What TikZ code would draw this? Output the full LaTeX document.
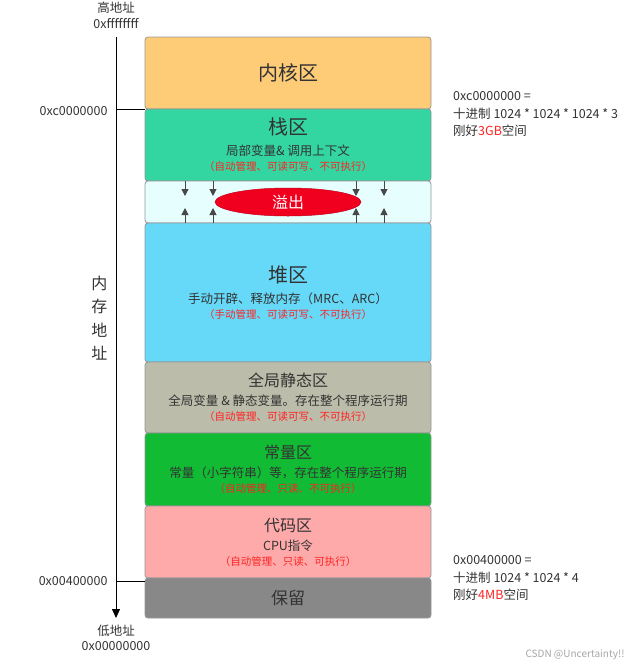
\documentclass[tikz,border=0pt]{standalone}
\usepackage{fontspec}
\setmainfont{Noto Sans CJK SC}
\usepackage{xcolor}
\usepackage{tikz}
\usetikzlibrary{shapes.geometric, arrows.meta, positioning, calc}
\definecolor{mytext}{RGB}{51,51,51}
\definecolor{myred}{RGB}{255,34,34}
\definecolor{myedge}{RGB}{150,150,150}
\definecolor{kernelorange}{RGB}{254,203,119}
\definecolor{stackgreen}{RGB}{51,214,161}
\definecolor{gapcyan}{RGB}{230,254,253}
\definecolor{heapblue}{RGB}{102,217,248}
\definecolor{globalgray}{RGB}{188,188,170}
\definecolor{constgreen}{RGB}{17,187,51}
\definecolor{codepink}{RGB}{255,170,170}
\definecolor{reservedgray}{RGB}{136,136,136}
\definecolor{overflowred}{RGB}{240,0,30}
\newcommand{\zonetitle}{\fontsize{20}{24}\selectfont}
\newcommand{\zonesub}{\fontsize{16}{20}\selectfont}
\newcommand{\zonenote}{\fontsize{10.5}{13}\selectfont\color{myred}}
\tikzset{
  zone/.style={rectangle, draw=myedge, minimum width=286pt,
    align=center, font=\fontsize{12.5}{16}\selectfont, text=mytext,
    rounded corners=3pt, line width=0.8pt, inner sep=0pt, outer sep=0pt},
  addr/.style={font=\fontsize{12.5}{15.5}\selectfont, text=mytext, align=center},
  note/.style={font=\fontsize{12.5}{17.5}\selectfont, text=mytext, align=left,
    anchor=west, inner sep=0pt},
  gaparrow/.style={-{Triangle[length=7pt, width=7pt]}, line width=1pt, color=mytext!90},
  axisarrow/.style={-{Triangle[length=9pt, width=8pt]}, line width=0.9pt, color=black}
}

\begin{document}
\begin{tikzpicture}[x=1pt, y=-1pt]
  \useasboundingbox (0,0) rectangle (641,667);

  % memory zones, top to bottom
  \node[zone, fill=kernelorange, minimum height=72pt] (kernel) at (288,73) {\zonetitle 内核区};
  \node[zone, fill=stackgreen, minimum height=72pt, below=0pt of kernel] (stack)
    {{\zonetitle 栈区}\\[5pt] 局部变量\& 调用上下文\\[-1pt] {\zonenote（自动管理、可读可写、不可执行）}};
  \node[zone, fill=gapcyan, minimum height=42pt, below=0pt of stack] (gap) {};
  \node[zone, fill=heapblue, minimum height=139pt, below=0pt of gap] (heap)
    {{\zonetitle 堆区}\\[5pt] 手动开辟、释放内存（MRC、ARC）\\[-1pt] {\zonenote（手动管理、可读可写、不可执行）}};
  \node[zone, fill=globalgray, minimum height=71pt, below=0pt of heap] (global)
    {{\zonesub 全局静态区}\\[3pt] 全局变量 \& 静态变量。存在整个程序运行期\\[-1pt] {\zonenote（自动管理、可读可写、不可执行）}};
  \node[zone, fill=constgreen, minimum height=73pt, below=0pt of global] (const)
    {{\zonesub 常量区}\\[3pt] 常量（小字符串）等，存在整个程序运行期\\[-1pt] {\zonenote（自动管理、只读、不可执行）}};
  \node[zone, fill=codepink, minimum height=72pt, below=0pt of const] (code)
    {{\zonesub 代码区}\\[3pt] CPU指令\\[-1pt] {\zonenote（自动管理、只读、可执行）}};
  \node[zone, fill=reservedgray, minimum height=40pt, below=0pt of code] (reserved)
    {\fontsize{17}{20}\selectfont 保留};

  % overflow between stack and heap
  \node[ellipse, fill=overflowred, draw=overflowred!80!black, line width=0.5pt,
    minimum width=146pt, minimum height=28pt, inner sep=0pt, text=white,
    font=\fontsize{16}{18}\selectfont] (overflow) at (gap.center) {溢出};
  \foreach \dx in {40,68,211,239} {
    \draw[gaparrow] ([xshift=\dx pt]stack.south west) -- ++(0,15);
    \draw[gaparrow] ([xshift=\dx pt]heap.north west) -- ++(0,-15);
  }

  % address axis
  \coordinate (axistop) at (116,37);
  \coordinate (axisbot) at (116,618);
  \draw[axisarrow] (axistop) -- (axisbot);
  \node[addr, above=5pt of axistop] {高地址\\0xffffffff};
  \node[addr, below=3pt of axisbot] {低地址\\0x00000000};
  \draw[line width=0.9pt] (axistop |- kernel.south west) -- (kernel.south west);
  \draw[line width=0.9pt] ([yshift=-3pt]axistop |- code.south west) coordinate (lowtick)
    -- ([yshift=-3pt]code.south west);
  \node[addr, anchor=east] at ([xshift=-5pt, yshift=-2pt]axistop |- kernel.south west) {0xc0000000};
  \node[addr, anchor=east] at ([xshift=-5pt]lowtick) {0x00400000};
  \node[addr, anchor=east, font=\fontsize{16}{23.5}\selectfont] at (111,318) {内\\存\\地\\址};

  % notes on the right
  \node[note] at ([xshift=22pt, yshift=-5pt]kernel.south east)
    {0xc0000000 =\\十进制 1024 * 1024 * 1024 * 3\\刚好{\color{myred}3GB}空间};
  \node[note] at ([xshift=22pt]code.south east)
    {0x00400000 =\\十进制 1024 * 1024 * 4\\刚好{\color{myred}4MB}空间};

  \node[anchor=east, text=black!35, font=\fontsize{10}{12}\selectfont] at (628,655) {CSDN @Uncertainty!!};
\end{tikzpicture}
\end{document}
